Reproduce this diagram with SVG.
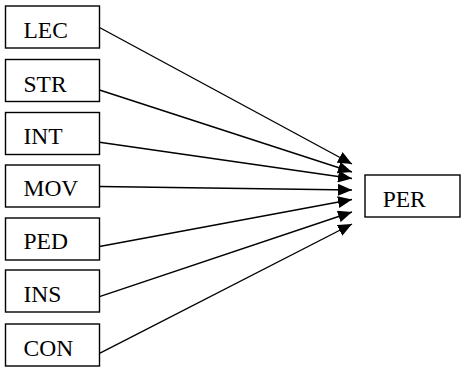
<svg xmlns="http://www.w3.org/2000/svg" width="466" height="372" viewBox="0 0 466 372">
<style>
.box{fill:#fff;stroke:#000;stroke-width:1.4}
.lbl{font-family:"Liberation Serif","Times New Roman",serif;font-size:23.5px;fill:#000}
.edge{stroke:#000;stroke-width:1.4;fill:none;marker-end:url(#ah)}
</style>
<defs>
<marker id="ah" markerUnits="userSpaceOnUse" markerWidth="14" markerHeight="12" refX="14" refY="6" orient="auto">
<path d="M0,0 L14,6 L0,12 z" fill="#000"/>
</marker>
</defs>
<rect width="466" height="372" fill="#fff"/>
<g id="connectors">
<line class="edge" x1="99.5" y1="27.5" x2="352" y2="164"/>
<line class="edge" x1="99.5" y1="90" x2="352" y2="172"/>
<line class="edge" x1="99.5" y1="142.3" x2="352" y2="178.5"/>
<line class="edge" x1="99.5" y1="186.5" x2="352" y2="190"/>
<line class="edge" x1="99.5" y1="246.5" x2="352" y2="199.5"/>
<line class="edge" x1="99.5" y1="296.7" x2="352" y2="212"/>
<line class="edge" x1="99.5" y1="353.3" x2="352" y2="224"/>
</g>
<g id="LEC"><rect class="box" x="5.5" y="6" width="94" height="42"/><text class="lbl" x="23.5" y="37.7">LEC</text></g>
<g id="STR"><rect class="box" x="5.5" y="59.5" width="94" height="42"/><text class="lbl" x="23.5" y="91.5">STR</text></g>
<g id="INT"><rect class="box" x="5.5" y="112.5" width="94" height="42"/><text class="lbl" x="23.5" y="144">INT</text></g>
<g id="MOV"><rect class="box" x="5.5" y="165" width="94" height="42"/><text class="lbl" x="23.5" y="196">MOV</text></g>
<g id="PED"><rect class="box" x="5.5" y="218" width="94" height="42"/><text class="lbl" x="23.5" y="248.5">PED</text></g>
<g id="INS"><rect class="box" x="5.5" y="270" width="94" height="42"/><text class="lbl" x="23.5" y="301.5">INS</text></g>
<g id="CON"><rect class="box" x="5.5" y="324" width="94" height="42"/><text class="lbl" x="23.5" y="356">CON</text></g>
<g id="PER"><rect class="box" x="365" y="175" width="95" height="42"/><text class="lbl" x="382.7" y="206.7">PER</text></g>
</svg>
